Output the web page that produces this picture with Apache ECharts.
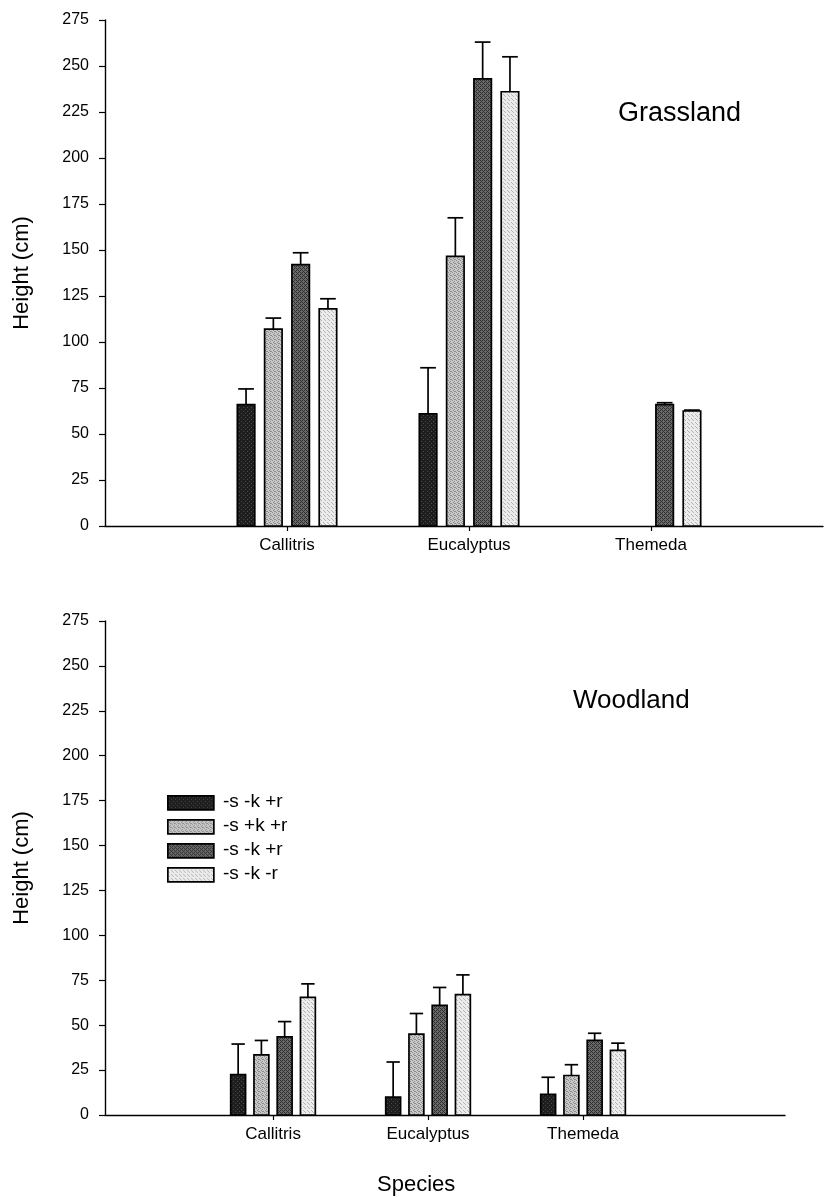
<!DOCTYPE html>
<html>
<head>
<meta charset="utf-8">
<script src="https://cdn.jsdelivr.net/npm/echarts@6/dist/echarts.min.js"></script>
<style>
  html, body { margin: 0; padding: 0; background: #fff; }
  #chart { width: 825px; height: 1198px; }
</style>
</head>
<body>
<div id="chart"></div>
<script>
// Species on the x axis, one group of four treatment bars each
const categories = ['Callitris', 'Eucalyptus', 'Themeda'];
const treatments = ['-s -k +r', '-s +k +r', '-s -k +r', '-s -k -r'];
const yTicks = [0, 25, 50, 75, 100, 125, 150, 175, 200, 225, 250, 275];

// Grassland: mean height (cm) per treatment, in species order
const grassT1 = [66, 61, null];
const grassT2 = [107, 146.5, null];
const grassT3 = [142, 243, 66];
const grassT4 = [118, 236, 62.5];
// Grassland: upper error (cm)
const grassErrT1 = [8.5, 25, null];
const grassErrT2 = [6, 21, null];
const grassErrT3 = [6.5, 20, 1];
const grassErrT4 = [5.5, 19, 0.5];

// Woodland: mean height (cm)
const woodT1 = [22.5, 10, 11.5];
const woodT2 = [33.5, 45, 22];
const woodT3 = [43.5, 61, 41.5];
const woodT4 = [65.5, 67, 36];
// Woodland: upper error (cm)
const woodErrT1 = [17, 19.5, 9.5];
const woodErrT2 = [8, 11.5, 6];
const woodErrT3 = [8.5, 10, 4];
const woodErrT4 = [7.5, 11, 4];

const FONT = 'Liberation Sans, Arial, sans-serif';

// small tiled fills: stippled greys and a dark hatch
function makeTile(base, ink, cells) {
  const c = document.createElement('canvas');
  c.width = 4; c.height = 4;
  const g = c.getContext('2d');
  g.fillStyle = base; g.fillRect(0, 0, 4, 4);
  g.fillStyle = ink;
  cells.forEach(([x, y]) => g.fillRect(x, y, 1, 1));
  return { image: c, repeat: 'repeat' };
}
const fills = [
  makeTile('#1e1e1e', '#4a4a4a', [[1, 1], [3, 3]]),
  makeTile('#c8c8c8', '#8c8c8c', [[0, 0], [2, 1], [1, 2], [3, 3], [2, 3]]),
  makeTile('#6a6a6a', '#2e2e2e', [[0, 0], [1, 1], [2, 2], [3, 3], [0, 2], [2, 0]]),
  makeTile('#ececec', '#b4b4b4', [[1, 0], [3, 2], [0, 3]])
];

const BAR_PITCH = 0.15;   // distance between bar centres, in category units
const BAR_WIDTH = 0.096;

function makeSeries(means, errs, axisIdx) {
  return means.map((vals, t) => ({
    type: 'custom',
    name: treatments[t],
    xAxisIndex: axisIdx,
    yAxisIndex: axisIdx,
    data: vals.map((v, i) => [i + 1, v, errs[t][i]]).filter(d => d[1] != null),
    renderItem: (params, api) => {
      const x = api.value(0) + (t - 1.5) * BAR_PITCH;
      const v = api.value(1);
      const e = api.value(2);
      const w = api.size([BAR_WIDTH, 0])[0];
      const top = api.coord([x, v]);
      const base = api.coord([x, 0]);
      const errTop = api.coord([x, v + e]);
      const capHalf = w * 0.45;
      return {
        type: 'group',
        children: [
          {
            type: 'line',
            shape: { x1: top[0], y1: top[1], x2: errTop[0], y2: errTop[1] },
            style: { stroke: '#000', lineWidth: 1.7 }
          },
          {
            type: 'line',
            shape: { x1: errTop[0] - capHalf, y1: errTop[1], x2: errTop[0] + capHalf, y2: errTop[1] },
            style: { stroke: '#000', lineWidth: 1.7 }
          },
          {
            type: 'rect',
            shape: { x: top[0] - w / 2, y: top[1], width: w, height: base[1] - top[1] },
            style: { fill: fills[t], stroke: '#000', lineWidth: 1.7 }
          }
        ]
      };
    }
  }));
}

function xAxisCfg(gridIndex, min, max) {
  return {
    type: 'value', gridIndex, min, max,
    axisLine: { show: true, onZero: false, lineStyle: { color: '#000', width: 1.4 } },
    axisTick: { show: true, customValues: [1, 2, 3], length: 5, lineStyle: { color: '#000', width: 1.2 } },
    axisLabel: {
      customValues: [1, 2, 3],
      formatter: v => categories[Math.round(v) - 1] || '',
      color: '#000', fontFamily: FONT, fontSize: 17, margin: 11
    },
    splitLine: { show: false }
  };
}

function yAxisCfg(gridIndex) {
  return {
    type: 'value', gridIndex, min: 0, max: 275, interval: 25,
    name: 'Height (cm)', nameLocation: 'middle', nameGap: 72, nameRotate: 90,
    nameTextStyle: { color: '#000', fontFamily: FONT, fontSize: 22 },
    axisLine: { show: true, onZero: false, lineStyle: { color: '#000', width: 1.4 } },
    axisTick: { show: true, length: 6, lineStyle: { color: '#000', width: 1.2 } },
    axisLabel: {
      color: '#000', fontFamily: FONT, fontSize: 16, margin: 16,
      formatter: v => (yTicks.includes(v) ? String(v) : '')
    },
    splitLine: { show: false }
  };
}

// legend drawn as graphic items so both "-s -k +r" entries stay visible
const legendItems = [];
treatments.forEach((name, t) => {
  const y = 795 + t * 24;
  legendItems.push({
    type: 'rect', left: 167, top: y, shape: { width: 46, height: 14 },
    style: { fill: fills[t], stroke: '#000', lineWidth: 1.7 }
  });
  legendItems.push({
    type: 'text', left: 223, top: y - 3,
    style: { text: name, fill: '#000', font: '19px ' + FONT }
  });
});

const chart = echarts.init(document.getElementById('chart'), null, { renderer: 'canvas' });
chart.setOption({
  animation: false,
  backgroundColor: '#fff',
  grid: [
    { left: 105, top: 20, width: 718, height: 506 },
    { left: 105, top: 621, width: 680, height: 494 }
  ],
  xAxis: [xAxisCfg(0, 0, 3.945), xAxisCfg(1, -0.084, 4.303)],
  yAxis: [yAxisCfg(0), yAxisCfg(1)],
  title: [
    { text: 'Grassland', left: 613, top: 95, textStyle: { fontFamily: FONT, fontSize: 27, fontWeight: 'normal', color: '#000' } },
    { text: 'Woodland', left: 568, top: 683, textStyle: { fontFamily: FONT, fontSize: 26, fontWeight: 'normal', color: '#000' } },
    { text: 'Species', left: 372, top: 1169, textStyle: { fontFamily: FONT, fontSize: 22, fontWeight: 'normal', color: '#000' } }
  ],
  graphic: legendItems,
  series: [
    ...makeSeries([grassT1, grassT2, grassT3, grassT4], [grassErrT1, grassErrT2, grassErrT3, grassErrT4], 0),
    ...makeSeries([woodT1, woodT2, woodT3, woodT4], [woodErrT1, woodErrT2, woodErrT3, woodErrT4], 1)
  ]
});
</script>
</body>
</html>
